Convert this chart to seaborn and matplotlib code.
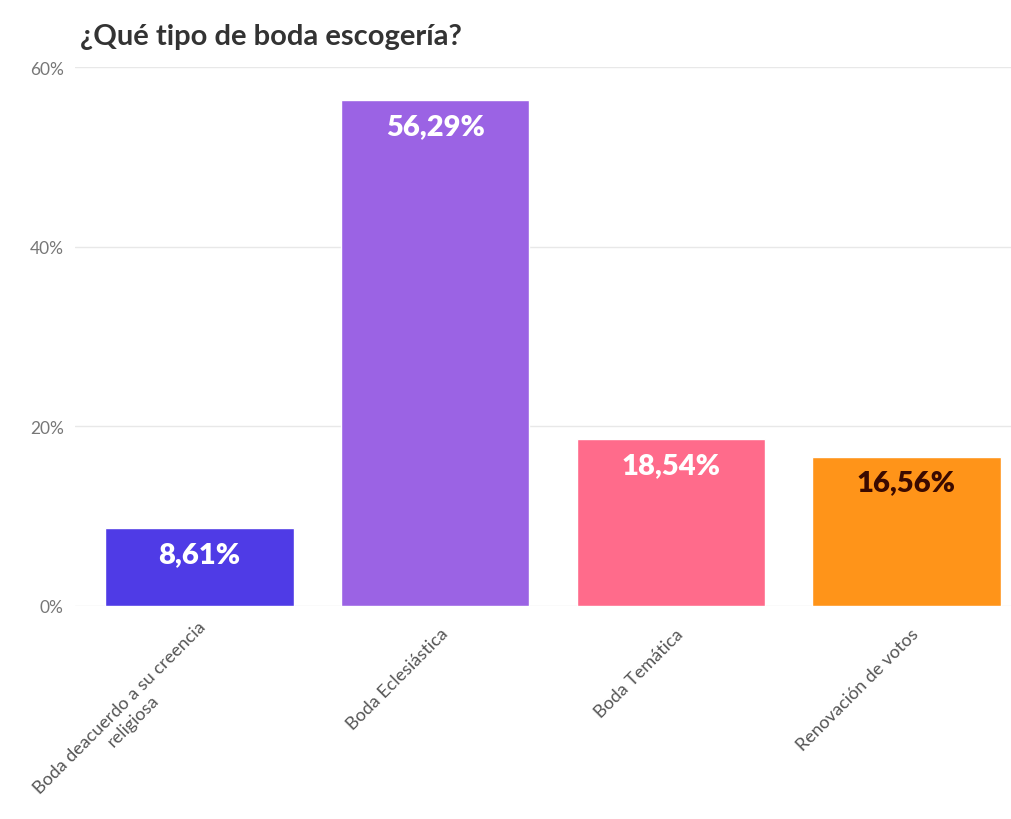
import pandas as pd
import seaborn as sns
import matplotlib.pyplot as plt
import matplotlib.transforms as mtransforms

# data
categories = ["Boda deacuerdo a su creencia\nreligiosa", "Boda Eclesiástica",
              "Boda Temática", "Renovación de votos"]
values = [8.61, 56.29, 18.54, 16.56]
labels = ["8,61%", "56,29%", "18,54%", "16,56%"]
colors = ["#4F3BE6", "#9B63E4", "#FF6B8B", "#FF9419"]
label_colors = ["white", "white", "white", "#3A0A00"]
yticks = [0, 20, 40, 60]

df = pd.DataFrame({"tipo": categories, "pct": values})

sns.set_style("white")
plt.rcParams["font.family"] = ["Lato", "DejaVu Sans"]

fig = plt.figure(figsize=(10.11, 8.2), dpi=100)
ax = fig.add_axes([0.074, 0.26, 0.932, 0.657])

sns.barplot(data=df, x="tipo", y="pct", hue="tipo", palette=colors,
            width=0.8, saturation=1, legend=False, ax=ax)

# value labels inside the top of each bar
for i, v in enumerate(values):
    ax.annotate(labels[i], (i, v), xytext=(0, -9), textcoords="offset points",
                ha="center", va="top", fontsize=21, fontweight="heavy",
                color=label_colors[i])

ax.set_ylim(0, 60)
ax.set_xlim(-0.53, 3.47)
ax.set_yticks(yticks)
ax.set_yticklabels([f"{t}%" for t in yticks], color="#777777", fontsize=12.5)
ax.yaxis.grid(True, color="#e8e8e8", linewidth=1)
ax.set_axisbelow(True)
for s in ax.spines.values():
    s.set_visible(False)
ax.tick_params(axis="y", length=0, pad=8)
ax.tick_params(axis="x", length=8, color="#e8e8e8", pad=10)
shift = mtransforms.ScaledTranslation(10 / 100, 0, fig.dpi_scale_trans)
for lab in ax.get_xticklabels():
    lab.set(rotation=45, ha="right", va="center", rotation_mode="anchor",
            color="#555555", fontsize=13, multialignment="center")
    lab.set_transform(lab.get_transform() + shift)
ax.set_xlabel("")
ax.set_ylabel("")

fig.text(0.079, 0.955, "¿Qué tipo de boda escogería?", fontsize=21,
         fontweight="bold", color="#333333", va="center")

plt.savefig("out.png", dpi=100)
